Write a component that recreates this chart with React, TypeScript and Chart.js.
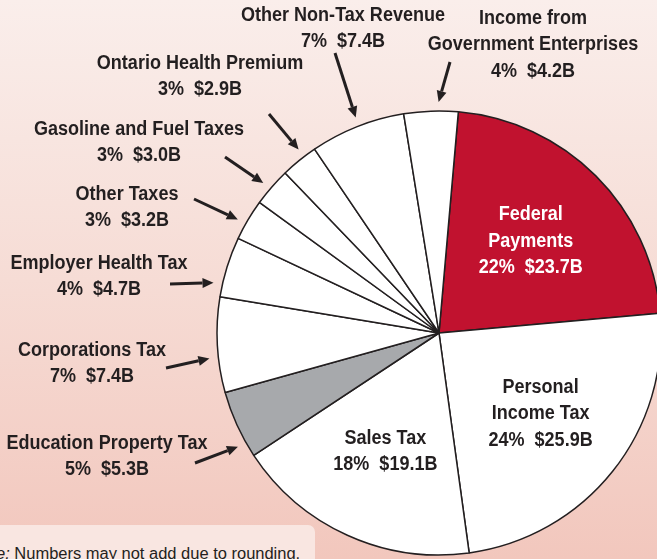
import React, { useEffect, useRef } from "react";
import { Chart, registerables } from "chart.js";

Chart.register(...registerables);

const categories = [
  "Federal Payments",
  "Personal Income Tax",
  "Sales Tax",
  "Education Property Tax",
  "Corporations Tax",
  "Employer Health Tax",
  "Other Taxes",
  "Gasoline and Fuel Taxes",
  "Ontario Health Premium",
  "Other Non-Tax Revenue",
  "Income from Government Enterprises",
];
const labelLines = [
  ["Federal", "Payments"],
  ["Personal", "Income Tax"],
  ["Sales Tax"],
  ["Education Property Tax"],
  ["Corporations Tax"],
  ["Employer Health Tax"],
  ["Other Taxes"],
  ["Gasoline and Fuel Taxes"],
  ["Ontario Health Premium"],
  ["Other Non-Tax Revenue"],
  ["Income from", "Government Enterprises"],
];
const valuesB = [23.7, 25.9, 19.1, 5.3, 7.4, 4.7, 3.2, 3.0, 2.9, 7.4, 4.2];
const percents = [22, 24, 18, 5, 7, 4, 3, 3, 3, 7, 4];
const sliceColors = [
  "#c1122f", "#ffffff", "#ffffff", "#a7a9ac", "#ffffff", "#ffffff",
  "#ffffff", "#ffffff", "#ffffff", "#ffffff", "#ffffff",
];
const textColors = [
  "#ffffff", "#231f20", "#231f20", "#231f20", "#231f20", "#231f20",
  "#231f20", "#231f20", "#231f20", "#231f20", "#231f20",
];
// outside label placement: [centerX, firstLineY, arrowTailX, arrowTailY, tipFractionWithinSlice]; null = inside slice
const outsidePlacement: (number[] | null)[] = [
  null,
  null,
  null,
  [107, 443, 195, 463, 0.22],
  [92, 350, 166, 368, 0.37],
  [99, 263, 170, 284, 0.2],
  [127, 194, 194, 199, 0.39],
  [139, 129, 225, 157, 0.44],
  [200, 63, 269, 114, 0.66],
  [343, 15, 335, 53, 0.52],
  [533, 18, 450, 62, 0.64],
];

const FONT = "'Liberation Sans', Arial, sans-serif";
const LINE_H = 26.5;

function drawCondensed(ctx: CanvasRenderingContext2D, t: string, x: number, y: number, sx: number) {
  ctx.save();
  ctx.translate(x, y);
  ctx.scale(sx, 1);
  ctx.fillText(t, 0, 0);
  ctx.restore();
}

const labelPlugin = {
  id: "sliceLabels",
  afterDatasetsDraw(chart: any) {
    const ctx = chart.ctx;
    const meta = chart.getDatasetMeta(0);
    ctx.save();
    ctx.font = `bold 20px ${FONT}`;
    ctx.textAlign = "center";
    ctx.textBaseline = "middle";
    const sx = 204 / ctx.measureText("Other Non-Tax Revenue").width;
    meta.data.forEach((arc: any, i: number) => {
      const p = arc.getProps(["x", "y", "startAngle", "endAngle", "outerRadius"], true);
      const lines = [...labelLines[i], `${percents[i]}%  $${valuesB[i].toFixed(1)}B`];
      const place = outsidePlacement[i];
      ctx.fillStyle = textColors[i];
      if (!place) {
        const mid = (p.startAngle + p.endAngle) / 2;
        const d = p.outerRadius * 0.585;
        const cx = p.x + Math.cos(mid) * d;
        const cy = p.y + Math.sin(mid) * d;
        const y0 = cy - ((lines.length - 1) * LINE_H) / 2;
        lines.forEach((t, k) => drawCondensed(ctx, t, cx, y0 + k * LINE_H, sx));
      } else {
        const [lx, ly, tx, ty, frac] = place;
        lines.forEach((t, k) => drawCondensed(ctx, t, lx, ly + k * LINE_H, sx));
        const a = p.startAngle + (p.endAngle - p.startAngle) * frac;
        const r = p.outerRadius + 9;
        const hx = p.x + Math.cos(a) * r;
        const hy = p.y + Math.sin(a) * r;
        const ang = Math.atan2(hy - ty, hx - tx);
        const headL = 11;
        const headW = 5;
        const bx = hx - Math.cos(ang) * headL;
        const by = hy - Math.sin(ang) * headL;
        ctx.strokeStyle = "#231f20";
        ctx.lineWidth = 3;
        ctx.beginPath();
        ctx.moveTo(tx, ty);
        ctx.lineTo(bx, by);
        ctx.stroke();
        ctx.fillStyle = "#231f20";
        ctx.beginPath();
        ctx.moveTo(hx, hy);
        ctx.lineTo(bx + Math.sin(ang) * headW, by - Math.cos(ang) * headW);
        ctx.lineTo(bx - Math.sin(ang) * headW, by + Math.cos(ang) * headW);
        ctx.closePath();
        ctx.fill();
      }
    });
    ctx.restore();
  },
};

export default function App() {
  const ref = useRef<HTMLCanvasElement>(null);
  useEffect(() => {
    document.body.style.margin = "0";
    const chart = new Chart(ref.current as HTMLCanvasElement, {
      type: "pie",
      data: {
        labels: categories,
        datasets: [
          {
            data: valuesB,
            backgroundColor: sliceColors,
            borderColor: "#231f20",
            borderWidth: 1.5,
          },
        ],
      },
      options: {
        responsive: false,
        animation: false,
        devicePixelRatio: 1,
        rotation: 5,
        radius: 222,
        layout: { padding: { left: 221, top: 107, right: 0, bottom: 0 } },
        plugins: { legend: { display: false }, tooltip: { enabled: false } },
      } as any,
      plugins: [labelPlugin],
    });
    return () => chart.destroy();
  }, []);
  return (
    <div
      style={{
        position: "relative",
        width: 657,
        height: 559,
        overflow: "hidden",
        background: "linear-gradient(to bottom, #faeeeb 0%, #f6dcd5 50%, #f2c7bd 100%)",
      }}
    >
      <canvas ref={ref} width={657} height={559} style={{ position: "absolute", left: 0, top: 0 }} />
      <div
        style={{
          position: "absolute",
          left: -40,
          top: 525,
          width: 355,
          height: 60,
          borderRadius: 7,
          background: "#f9e6e1",
          color: "#231f20",
          boxSizing: "border-box",
          whiteSpace: "nowrap",
        }}
      >
        <span
          style={{
            position: "absolute",
            right: 15,
            top: 20,
            fontFamily: FONT,
            fontSize: 16,
            lineHeight: "18px",
            transform: "scaleX(1.03)",
            transformOrigin: "right center",
          }}
        >
          <i>Note:</i> Numbers may not add due to rounding.
        </span>
      </div>
    </div>
  );
}
